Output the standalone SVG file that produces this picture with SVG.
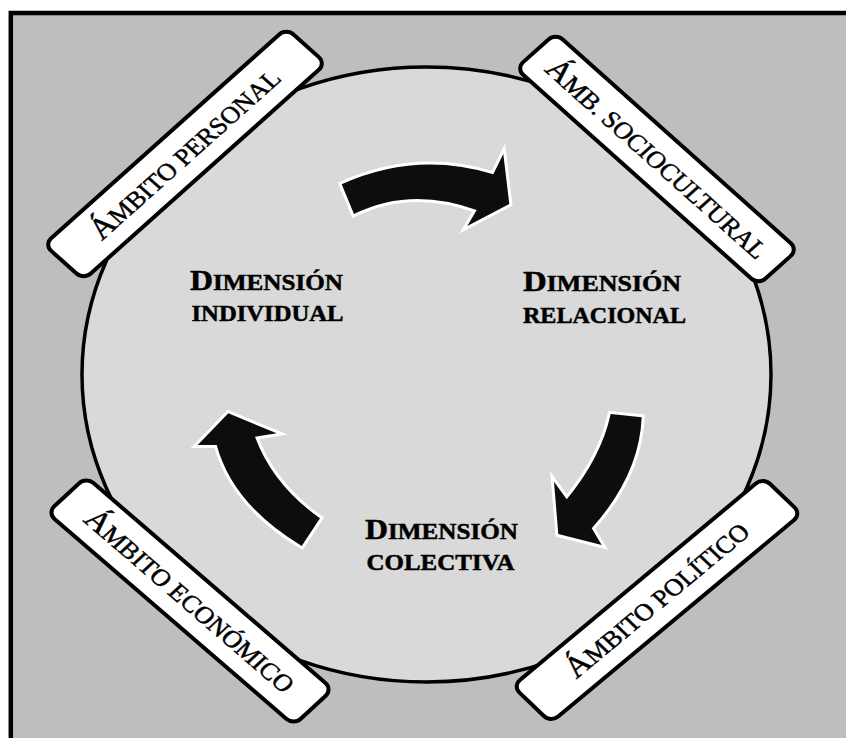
<svg xmlns="http://www.w3.org/2000/svg" width="846" height="738" viewBox="0 0 846 738">
  <style>
    .box rect { fill: #ffffff; stroke: #000000; stroke-width: 4; vector-effect: non-scaling-stroke; }
    .box text { font-family: "Liberation Serif", "Times New Roman", serif; font-size: 24px; fill: #000000; stroke: #000000; stroke-width: 0.45; text-anchor: middle; }
    .box .cap { font-size: 30px; }
    .dim text { font-family: "Liberation Serif", "Times New Roman", serif; font-size: 22.5px; font-weight: bold; fill: #000000; stroke: #000000; stroke-width: 0.5; }
    .dim .cap { font-size: 28.5px; }
    .arrow { fill: #0d0d0d; stroke: #ffffff; stroke-width: 6; stroke-linejoin: miter; stroke-miterlimit: 10; paint-order: stroke fill; }
  </style>
  <rect x="0" y="0" width="846" height="738" fill="#ffffff"/>
  <g id="frame">
    <rect x="10.8" y="13" width="1200" height="1200" fill="#bebebe" stroke="#000000" stroke-width="4.5"/>
  </g>
  <g id="cycle">
    <ellipse cx="426.5" cy="374.5" rx="344.5" ry="307.5" fill="#d9d9d9" stroke="#000000" stroke-width="3.5"/>
  </g>
  <g id="connectors">
    <path class="arrow" d="M 341.7,184.3 Q 416.5,150.7 493.3,174.3 L 503.3,154 L 509.3,204 L 467.3,226 L 476.7,210 Q 410.7,186 354,214 Z"/>
    <path class="arrow" d="M 610.7,414 L 641.7,417.3 Q 639.3,475.2 591.7,528.3 L 601.7,545 L 558.3,534 L 554,481.7 L 566.7,499.3 Q 601.3,457.3 610.7,414 Z"/>
    <path class="arrow" d="M 301.7,546 L 320,518.3 Q 272.5,484.5 255,436.7 L 276.7,433.3 L 228.3,413.3 L 197.7,445 L 216.7,445 Q 232.8,504.5 301.7,546 Z"/>
  </g>
  <g id="dim-individual" class="dim">
    <text x="190" y="290" textLength="153" lengthAdjust="spacingAndGlyphs"><tspan class="cap">D</tspan>IMENSIÓN</text>
    <text x="191.5" y="321" textLength="152" lengthAdjust="spacingAndGlyphs">INDIVIDUAL</text>
  </g>
  <g id="dim-relacional" class="dim">
    <text x="523" y="291" textLength="158" lengthAdjust="spacingAndGlyphs"><tspan class="cap">D</tspan>IMENSIÓN</text>
    <text x="523" y="323" textLength="163" lengthAdjust="spacingAndGlyphs">RELACIONAL</text>
  </g>
  <g id="dim-colectiva" class="dim">
    <text x="365" y="538.5" textLength="153" lengthAdjust="spacingAndGlyphs"><tspan class="cap">D</tspan>IMENSIÓN</text>
    <text x="366.5" y="569.5" textLength="148" lengthAdjust="spacingAndGlyphs">COLECTIVA</text>
  </g>
  <g id="amb-personal" class="box" transform="translate(185,154) scale(1.12,1) rotate(-45)">
    <rect x="-153" y="-25" width="306" height="50" rx="9"/>
    <text x="0" y="9"><tspan class="cap">Á</tspan>MBITO PERSONAL</text>
  </g>
  <g id="amb-sociocultural" class="box" transform="translate(657,159) scale(1.12,1) rotate(45)">
    <rect x="-153" y="-25" width="306" height="50" rx="9"/>
    <text x="0" y="9"><tspan class="cap">Á</tspan>MB. SOCIOCULTURAL</text>
  </g>
  <g id="amb-economico" class="box" transform="translate(190,601) scale(1.12,1) rotate(44)">
    <rect x="-153" y="-25" width="306" height="50" rx="9"/>
    <text x="0" y="9"><tspan class="cap">Á</tspan>MBITO ECONÓMICO</text>
  </g>
  <g id="amb-politico" class="box" transform="translate(657,600) scale(1.12,1) rotate(-43)">
    <rect x="-153" y="-25" width="306" height="50" rx="9"/>
    <text x="0" y="9"><tspan class="cap">Á</tspan>MBITO POLÍTICO</text>
  </g>
</svg>
